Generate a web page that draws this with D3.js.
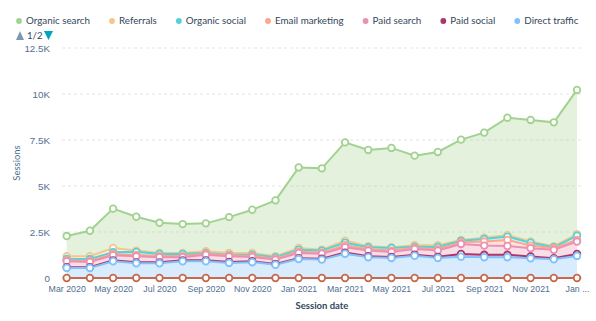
<!DOCTYPE html>
<html>
<head>
<meta charset="utf-8">
<script src="https://cdn.jsdelivr.net/npm/d3@7"></script>
<style>
  html, body { margin: 0; padding: 0; background: #fff; }
  svg { display: block; font-family: Lato, "Open Sans", sans-serif; }
</style>
</head>
<body>
<svg id="chart" width="596" height="321"></svg>
<script>
const months = ["Mar 2020","Apr 2020","May 2020","Jun 2020","Jul 2020","Aug 2020","Sep 2020","Oct 2020","Nov 2020","Dec 2020","Jan 2021","Feb 2021","Mar 2021","Apr 2021","May 2021","Jun 2021","Jul 2021","Aug 2021","Sep 2021","Oct 2021","Nov 2021","Dec 2021","Jan 2022"];
const xTickLabels = ["Mar 2020","May 2020","Jul 2020","Sep 2020","Nov 2020","Jan 2021","Mar 2021","May 2021","Jul 2021","Sep 2021","Nov 2021","Jan ..."];
const yTicks = [0, 2500, 5000, 7500, 10000, 12500];

const organicSearch = [1100,1390,2140,1840,1640,1570,1520,1950,2350,3040,4380,4420,5340,5230,5400,4870,5070,5450,5710,6370,6610,6730,7840];
const referrals     = [150,150,230,70,50,50,90,90,90,50,90,50,110,60,40,80,90,50,70,90,60,60,80];
const organicSocial = [60,100,90,170,120,120,40,30,70,80,110,110,140,110,140,60,130,80,140,180,160,50,230];
const emailMarketing= [60,60,70,70,60,60,50,60,60,50,70,60,110,70,70,60,70,90,220,330,140,90,90];
const paidSearch    = [325,285,280,330,280,170,310,310,230,240,280,270,290,310,280,320,340,540,500,480,450,450,670];
const paidSocial    = [40,40,50,50,50,50,50,50,50,40,50,50,60,50,50,50,60,150,130,130,100,60,110];
const directTraffic = [545,545,910,800,800,910,910,820,860,720,1030,1000,1320,1130,1090,1210,1090,1160,1130,1130,1070,1020,1200];
const otherCampaigns= [0,0,0,0,0,0,0,0,0,0,0,0,0,0,0,0,0,0,0,0,0,0,0];

const seriesNames  = ["Organic search","Referrals","Organic social","Email marketing","Paid search","Paid social","Direct traffic","Other campaigns"];
const seriesValues = [organicSearch, referrals, organicSocial, emailMarketing, paidSearch, paidSocial, directTraffic, otherCampaigns];
const seriesColors = ["#a2d28f","#f5c78e","#51d3d9","#fea58e","#ea90b1","#a8386a","#81c1fd","#c6694c"];
const legendCount = 7;

const svg = d3.select("#chart");
const x = d3.scalePoint().domain(months).range([66.7, 577]);
const y = d3.scaleLinear().domain([0, 12500]).range([278, 48]);

// table for stacking
const table = months.map((m, i) => {
  const row = { month: m };
  seriesNames.forEach((n, k) => row[n] = seriesValues[k][i]);
  return row;
});
const stackKeys = seriesNames.slice().reverse(); // bottom to top
const stacked = d3.stack().keys(stackKeys)(table);
const drawOrder = stacked.slice().reverse(); // legend order: top series drawn first
const colorOf = n => seriesColors[seriesNames.indexOf(n)];

// gridlines
const grid = svg.append("g");
grid.selectAll("line").data(yTicks.filter(d => d > 0)).join("line")
  .attr("x1", 62).attr("x2", 582)
  .attr("y1", d => y(d)).attr("y2", d => y(d))
  .attr("stroke", "#dfe3eb").attr("stroke-dasharray", "3,3").attr("stroke-width", 1);
grid.append("line").attr("x1", 62).attr("x2", 582).attr("y1", y(0)).attr("y2", y(0))
  .attr("stroke", "#cbd6e2").attr("stroke-width", 1);

// y axis labels
const yAxis = d3.axisLeft(y).tickValues(yTicks).tickSize(0).tickPadding(0)
  .tickFormat(d => d === 0 ? "0" : (d / 1000) + "K");
const yg = svg.append("g").attr("transform", "translate(50,0)").call(yAxis);
yg.select(".domain").remove();
yg.selectAll("text").attr("fill", "#516f90").style("font-size", "9.8px").attr("dy", "0.35em");

svg.append("text").attr("transform", "translate(20,163) rotate(-90)")
  .attr("text-anchor", "middle").attr("fill", "#516f90").style("font-size", "9.5px").text("Sessions");

// x axis
const xAxis = d3.axisBottom(x).tickValues(months.filter((m, i) => i % 2 === 0)).tickSize(0).tickPadding(0)
  .tickFormat((d, i) => xTickLabels[i]);
const xg = svg.append("g").attr("transform", "translate(0,286)").call(xAxis);
xg.select(".domain").remove();
xg.selectAll("text").attr("fill", "#516f90").style("font-size", "8.8px").attr("dy", "0.71em");

svg.append("text").attr("x", 322).attr("y", 309).attr("text-anchor", "middle")
  .attr("fill", "#33475b").style("font-size", "9.5px").style("font-weight", "bold").text("Session date");

// areas
const area = d3.area().x((d, i) => x(months[i])).y0(d => y(d[0])).y1(d => y(d[1]));
svg.append("g").selectAll("path").data(drawOrder).join("path")
  .attr("d", area).attr("fill", d => colorOf(d.key)).attr("fill-opacity", 0.3);

// lines
const line = d3.line().x((d, i) => x(months[i])).y(d => y(d[1]));
svg.append("g").selectAll("path").data(drawOrder).join("path")
  .attr("d", line).attr("fill", "none").attr("stroke", d => colorOf(d.key)).attr("stroke-width", 2);

// markers
svg.append("g").selectAll("g").data(drawOrder).join("g")
  .attr("stroke", d => colorOf(d.key))
  .selectAll("circle").data(d => d).join("circle")
  .attr("cx", (d, i) => x(months[i])).attr("cy", d => y(d[1])).attr("r", 3.3)
  .attr("fill", "#fff").attr("stroke-width", 1.8);

// legend
const lg = svg.append("g").attr("transform", "translate(0,21)");
let lx = 19;
seriesNames.slice(0, legendCount).forEach((n, k) => {
  lg.append("circle").attr("cx", lx).attr("cy", 0).attr("r", 2.9).attr("fill", seriesColors[k]);
  const t = lg.append("text").attr("x", lx + 7).attr("y", 0).attr("dy", "0.35em")
    .attr("fill", "#33475b").style("font-size", "9.8px").text(n);
  lx = lx + 7 + t.node().getComputedTextLength() + 22;
});

// pager
const pg = svg.append("g").attr("transform", "translate(0,35.5)");
pg.append("path").attr("d", "M16,4.5 L20,-4.5 L24,4.5 Z").attr("fill", "#7c98b6");
pg.append("text").attr("x", 27).attr("y", 0).attr("dy", "0.35em").attr("fill", "#33475b").style("font-size", "9.6px").text("1/2");
pg.append("path").attr("d", "M44,-4.5 L53,-4.5 L48.5,4.5 Z").attr("fill", "#00a4bd");
</script>
</body>
</html>
